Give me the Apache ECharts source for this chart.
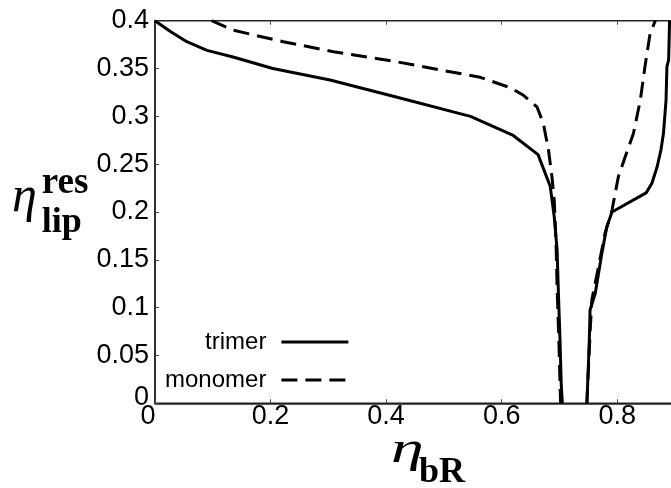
<!DOCTYPE html>
<html>
<head>
<meta charset="utf-8">
<script src="https://cdn.jsdelivr.net/npm/echarts@6/dist/echarts.min.js"></script>
<style>html,body{margin:0;padding:0;background:#fff;}#chart{width:671px;height:488px;}</style>
</head>
<body>
<div id="chart"></div>
<script>
// ---- data ----
var xTicks = [0, 0.2, 0.4, 0.6, 0.8];
var yTicks = [0, 0.05, 0.1, 0.15, 0.2, 0.25, 0.3, 0.35, 0.4];

var trimerLeftX = [0, 0.026, 0.055, 0.09, 0.135, 0.204, 0.303, 0.419, 0.546, 0.62, 0.663, 0.684, 0.691, 0.696, 0.698, 0.701, 0.703, 0.705];
var trimerLeftY = [0.4, 0.389, 0.378, 0.369, 0.362, 0.35, 0.338, 0.32, 0.3, 0.28, 0.26, 0.227, 0.195, 0.16, 0.119, 0.066, 0.021, 0];

var trimerRightX = [0.7475, 0.75, 0.752, 0.753, 0.762, 0.7735, 0.782, 0.791, 0.85, 0.86, 0.869, 0.8757, 0.88, 0.8845, 0.886, 0.889, 0.8906];
var trimerRightY = [0, 0.038, 0.073, 0.0975, 0.115, 0.157, 0.1846, 0.2, 0.22, 0.23, 0.247, 0.265, 0.282, 0.317, 0.352, 0.359, 0.4];

var monomerLeftX = [0.098, 0.1356, 0.222, 0.309, 0.4185, 0.5628, 0.6147, 0.6377, 0.661, 0.672, 0.681, 0.687, 0.691, 0.694, 0.696, 0.699, 0.701, 0.702];
var monomerLeftY = [0.4, 0.39, 0.378, 0.3676, 0.357, 0.3408, 0.33, 0.322, 0.31, 0.293, 0.265, 0.237, 0.2125, 0.17, 0.12, 0.066, 0.02, 0];

var monomerRightX = [0.7475, 0.749, 0.752, 0.753, 0.756, 0.7676, 0.779, 0.791, 0.802, 0.814, 0.828, 0.84, 0.848, 0.857, 0.866];
var monomerRightY = [0, 0.021, 0.06, 0.0735, 0.108, 0.1428, 0.178, 0.202, 0.237, 0.258, 0.282, 0.317, 0.352, 0.387, 0.4];

function pairs(xs, ys) { return xs.map(function (x, i) { return [x, ys[i]]; }); }

var chart = echarts.init(document.getElementById('chart'), null, {renderer: 'canvas'});
var axisCol = '#222';
var labelFont = 'Liberation Sans';
var solid = {color: '#000', width: 3, type: 'solid'};
var dashed = {color: '#000', width: 3, type: [16, 8]};

function fmt(v) { return v === 0 ? '{z|0}' : String(+v.toFixed(2)); }

chart.setOption({
  animation: false,
  backgroundColor: '#fff',
  grid: {left: 155, top: 20.7, bottom: 84.7, right: -4, outerBoundsMode: 'none', containLabel: false,
         show: true, borderColor: axisCol, borderWidth: 1.5, backgroundColor: 'transparent'},
  legend: {
    data: ['trimer', 'monomer'],
    orient: 'vertical', align: 'right',
    left: 165, top: 330, padding: 0,
    itemWidth: 67, itemHeight: 14, itemGap: 14,
    lineStyle: {width: 3},
    itemStyle: {color: 'rgba(0,0,0,0)', borderWidth: 0, opacity: 0},
    textStyle: {fontFamily: labelFont, fontSize: 24, lineHeight: 24, color: '#000', padding: [0, 10, 0, 0]}
  },
  xAxis: [{
    type: 'value', position: 'bottom', min: 0, max: 0.9, interval: 0.2,
    axisLine: {show: true, lineStyle: {color: axisCol, width: 1.5}},
    axisTick: {show: true, inside: true, length: 4, lineStyle: {color: '#444', width: 1}},
    splitLine: {show: false},
    axisLabel: {
      margin: 0, fontFamily: labelFont, fontSize: 27, color: '#000', showMaxLabel: false,
      formatter: fmt,
      rich: {z: {fontFamily: labelFont, fontSize: 27, color: '#000', padding: [0, 14, 0, 0]}}
    }
  }, {
    type: 'value', position: 'top', min: 0, max: 0.9, interval: 0.2,
    axisLine: {show: false},
    axisTick: {show: true, inside: true, length: 4, lineStyle: {color: '#444', width: 1}},
    axisLabel: {show: false}, splitLine: {show: false}
  }],
  yAxis: {
    type: 'value', min: 0, max: 0.4, interval: 0.05,
    axisLine: {show: true, lineStyle: {color: axisCol, width: 1.5}},
    axisTick: {show: true, inside: true, length: 4, lineStyle: {color: '#444', width: 1}},
    splitLine: {show: false},
    axisLabel: {
      margin: 6, fontFamily: labelFont, fontSize: 27, color: '#000',
      formatter: fmt,
      rich: {z: {fontFamily: labelFont, fontSize: 27, color: '#000', padding: [0, 0, 12, 0]}}
    }
  },
  series: [
    {name: 'trimer', type: 'line', symbol: 'none', data: pairs(trimerLeftX, trimerLeftY), lineStyle: solid, itemStyle: {color: '#000'}},
    {name: 'trimer', type: 'line', symbol: 'none', data: pairs(trimerRightX, trimerRightY), lineStyle: solid, itemStyle: {color: '#000'}},
    {name: 'monomer', type: 'line', symbol: 'none', data: pairs(monomerLeftX, monomerLeftY), lineStyle: dashed, itemStyle: {color: '#000'}},
    {name: 'monomer', type: 'line', symbol: 'none', data: pairs(monomerRightX, monomerRightY), lineStyle: dashed, itemStyle: {color: '#000'}}
  ],
  graphic: [
    {type: 'text', x: 391, y: 428, scaleX: 1.5, style: {text: 'η', font: 'italic 44px "Liberation Serif"', fill: '#000', align: 'left', verticalAlign: 'top'}},
    {type: 'text', x: 419, y: 455, style: {text: 'bR', font: 'bold 36px "Liberation Serif"', fill: '#000', align: 'left', verticalAlign: 'top'}},
    {type: 'text', x: 12, y: 172.5, style: {text: 'η', font: 'italic 50px "Liberation Serif"', fill: '#000', align: 'left', verticalAlign: 'top'}},
    {type: 'text', x: 41.7, y: 165, style: {text: 'res', font: 'bold 37px "Liberation Serif"', fill: '#000', align: 'left', verticalAlign: 'top'}},
    {type: 'text', x: 41.7, y: 204.4, style: {text: 'lip', font: 'bold 36px "Liberation Serif"', fill: '#000', align: 'left', verticalAlign: 'top'}}
  ]
});
</script>
</body>
</html>
